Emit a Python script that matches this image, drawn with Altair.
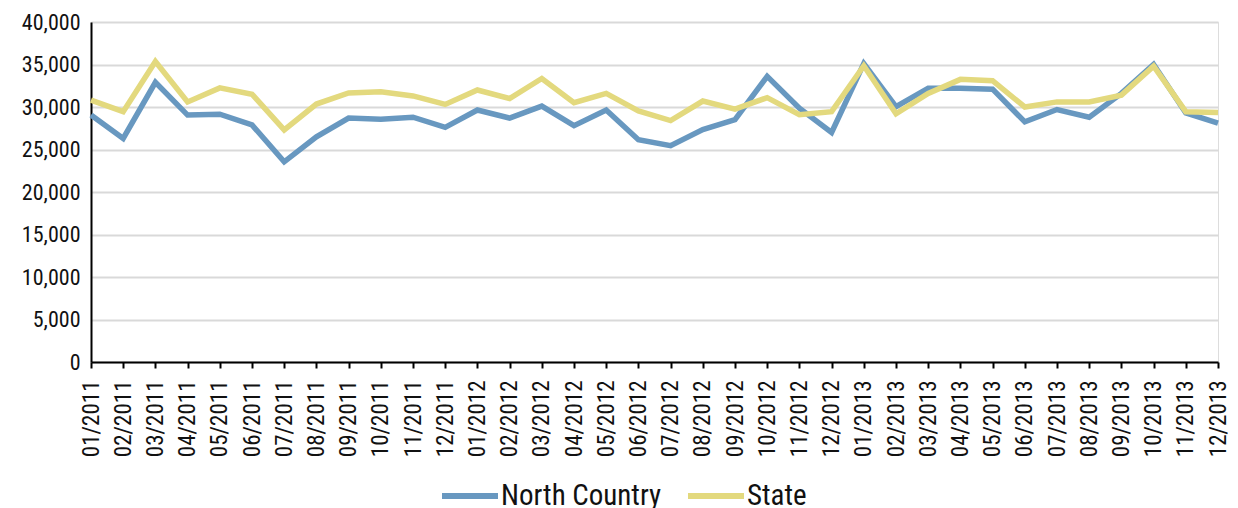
import altair as alt
import pandas as pd

months = ["01/2011","02/2011","03/2011","04/2011","05/2011","06/2011","07/2011","08/2011","09/2011","10/2011","11/2011","12/2011",
          "01/2012","02/2012","03/2012","04/2012","05/2012","06/2012","07/2012","08/2012","09/2012","10/2012","11/2012","12/2012",
          "01/2013","02/2013","03/2013","04/2013","05/2013","06/2013","07/2013","08/2013","09/2013","10/2013","11/2013","12/2013"]

north_country = [29050, 26300, 32900, 29050, 29150, 27900, 23550, 26500, 28700, 28550, 28800, 27600,
                 29650, 28700, 30100, 27800, 29650, 26150, 25450, 27350, 28500, 33600, 29850, 27000,
                 35100, 30050, 32200, 32200, 32100, 28250, 29700, 28800, 31600, 35000, 29300, 28100]

state = [30800, 29450, 35350, 30600, 32250, 31500, 27300, 30350, 31650, 31800, 31300, 30300,
         32000, 31000, 33350, 30500, 31600, 29550, 28400, 30700, 29750, 31100, 29100, 29450,
         34850, 29200, 31600, 33250, 33100, 30000, 30600, 30600, 31400, 34800, 29450, 29350]

series_names = ["North Country", "State"]
colors = ["#6898c0", "#e3d97e"]

rows = []
for m, v in zip(months, north_country):
    rows.append({"month": m, "value": v, "series": series_names[0]})
for m, v in zip(months, state):
    rows.append({"month": m, "value": v, "series": series_names[1]})
df = pd.DataFrame(rows)

FONT = "Liberation Sans Narrow, Roboto Condensed, DejaVu Sans Condensed, Roboto, sans-serif"

chart = alt.Chart(df).mark_line(strokeWidth=5.5, strokeJoin="miter", strokeCap="butt").encode(
    x=alt.X("month:N", sort=months, scale=alt.Scale(type="point", padding=0),
            axis=alt.Axis(title=None, labelAngle=-90, labelAlign="right", labelBaseline="middle",
                          labelPadding=12, tickSize=6, tickColor="#000", tickWidth=2,
                          domainColor="#000", domainWidth=2, grid=False,
                          labelFont=FONT, labelFontSize=23, labelColor="#111")),
    y=alt.Y("value:Q", scale=alt.Scale(domain=[0, 40000], nice=False),
            axis=alt.Axis(title=None, values=list(range(0, 40001, 5000)), format=",d",
                          tickSize=0, labelPadding=11, domainColor="#000", domainWidth=2,
                          gridColor="#d9d9d9", gridWidth=2,
                          labelFont=FONT, labelFontSize=22, labelColor="#111")),
    color=alt.Color("series:N", sort=series_names,
                    scale=alt.Scale(domain=series_names, range=colors),
                    legend=alt.Legend(title=None, orient="none", direction="horizontal",
                                      legendX=348, legendY=443,
                                      symbolType="stroke", symbolSize=3136, symbolStrokeWidth=6,
                                      labelFont=FONT, labelFontSize=29, labelColor="#111",
                                      labelLimit=400, columnPadding=14, labelOffset=0,
                                      symbolOffset=0, padding=0)),
).properties(
    width=1127, height=340,
    autosize=alt.AutoSizeParams(type="none"),
    padding={"left": 83, "top": 14, "right": 12, "bottom": 160},
).configure_view(stroke=None).configure(background="white")

chart.save("out.html", embed_options={"renderer": "svg", "actions": False})
